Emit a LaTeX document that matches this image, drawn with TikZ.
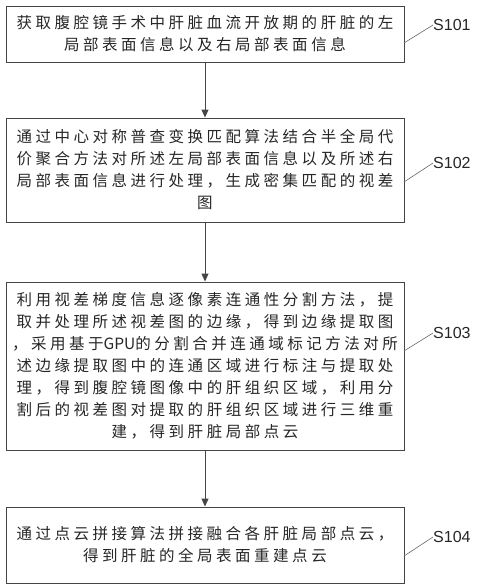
\documentclass[tikz,border=0pt]{standalone}
\usepackage{fontspec}
\setmainfont{Liberation Sans}
\newfontfamily\cjk[LetterSpace=22.6]{Noto Sans CJK SC}
\newfontfamily\cjkplain{Noto Sans CJK SC}
\usetikzlibrary{arrows.meta}
\definecolor{boxgray}{HTML}{454545}
\definecolor{leadgray}{HTML}{666666}
\begin{document}
\begin{tikzpicture}[x=1pt,y=-1pt,
  stepbox/.style={draw=boxgray, line width=0.9pt, inner sep=0pt, minimum width=398pt,
    align=center, text=black!85, font=\cjk\fontsize{15.5}{22}\selectfont},
  steplabel/.style={anchor=west, inner sep=0pt, text=black!85, font=\fontsize{16}{16}\selectfont},
  leader/.style={draw=leadgray, line width=0.6pt},
  flow/.style={draw=boxgray, line width=0.9pt, -{Triangle[length=8pt,width=7pt]}}]
\useasboundingbox (0,0) rectangle (479,587);

\node[stepbox, minimum height=56pt] (b1) at (205,34)
  {获取腹腔镜手术中肝脏血流开放期的肝脏的左\\局部表面信息以及右局部表面信息};
\node[stepbox, minimum height=104pt] (b2) at (205,170)
  {通过中心对称普查变换匹配算法结合半全局代\\价聚合方法对所述左局部表面信息以及所述右\\局部表面信息进行处理，生成密集匹配的视差\\图};
\node[stepbox, minimum height=168pt] (b3) at (205,366)
  {利用视差梯度信息逐像素连通性分割方法，提\\取并处理所述视差图的边缘，得到边缘提取图\\，采用基于{\cjkplain GPU}的分割合并连通域标记方法对所\\述边缘提取图中的连通区域进行标注与提取处\\理，得到腹腔镜图像中的肝组织区域，利用分\\割后的视差图对提取的肝组织区域进行三维重\\建，得到肝脏局部点云};
\node[stepbox, minimum height=76pt] (b4) at (205,545)
  {通过点云拼接算法拼接融合各肝脏局部点云，\\得到肝脏的全局表面重建点云};

\draw[flow] (b1) -- (b2);
\draw[flow] (b2) -- (b3);
\draw[flow] (b3) -- (b4);

\node[steplabel] (s1) at (433,25) {S101};
\node[steplabel] (s2) at (433,163) {S102};
\node[steplabel] (s3) at (433,333) {S103};
\node[steplabel] (s4) at (433,537) {S104};

\coordinate (c1) at (404,43);
\coordinate (c2) at (404,182);
\coordinate (c3) at (404,351);
\coordinate (c4) at (404,556);
\draw[leader] (c1) -- (s1.west);
\draw[leader] (c2) -- (s2.west);
\draw[leader] (c3) -- (s3.west);
\draw[leader] (c4) -- (s4.west);
\end{tikzpicture}
\end{document}
